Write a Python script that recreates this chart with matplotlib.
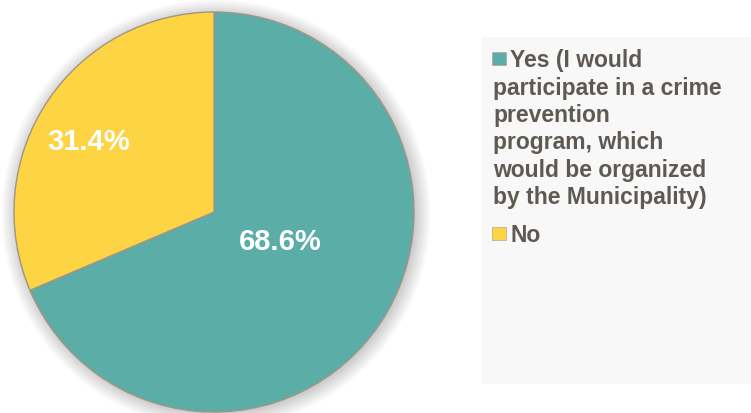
import matplotlib
matplotlib.use("Agg")
import matplotlib.pyplot as plt
from matplotlib.patches import Circle, Rectangle
import numpy as np

plt.rcParams["font.family"] = ["Liberation Sans", "DejaVu Sans"]

categories = ["Yes", "No"]
shares = [68.6, 31.4]
colors = ["#5aaea7", "#fdd443"]
# legend text, wrapped as in the original
legend_lines = [
    ["Yes (I would", "participate in a crime", "prevention", "program, which",
     "would be organized", "by the Municipality)"],
    ["No"],
]

W, H = 751, 414
fig = plt.figure(figsize=(W / 100, H / 100), dpi=100)
fig.patch.set_facecolor("white")


def px(x, y):
    return x / W, 1 - y / H


# pie axes: centre at (214, 213) px, radius 200 px
cx, cy, r = 214, 213, 200
ax = fig.add_axes([0, 0, 1, 1])
ax.axis("off")

# soft shadow
for k in range(10):
    ax.add_patch(Circle((0.01, -0.01), 1.0 + 0.008 * k, color="#000000",
                        alpha=0.018, lw=0, zorder=0))

wedges, _, autotexts = ax.pie(
    shares, colors=colors, startangle=90, counterclock=False,
    autopct="%.1f%%", pctdistance=0.7,
    wedgeprops=dict(edgecolor="#a39485", linewidth=1.0),
    textprops=dict(color="white", fontsize=21, fontweight="bold"),
)
ax.set_aspect("auto")
ax.set_xlim(-cx / r, (W - cx) / r)
ax.set_ylim(-(H - cy) / r, cy / r)

# label placement: distance from centre and angular nudge per wedge
for w, t, d, nudge in zip(wedges, autotexts, [0.36, 0.72], [10, 4]):
    mid = np.radians((w.theta1 + w.theta2) / 2 + nudge)
    t.set_position((d * np.cos(mid), d * np.sin(mid)))

# legend panel
x0, y0 = px(482, 385)
x1, y1 = px(751, 38)
fig.patches.append(Rectangle((x0, y0), x1 - x0, y1 - y0, transform=fig.transFigure,
                             facecolor="#f8f8f8", edgecolor="none", zorder=0))

text_color = "#5f5953"
line_h = 27.5
baseline = 67
for lines, col in zip(legend_lines, colors):
    sx, sy = px(492, baseline - 1)
    fig.patches.append(Rectangle((sx, sy), 14 / W, 13 / H, transform=fig.transFigure,
                                 facecolor=col, edgecolor="#b0a898", linewidth=0.5))
    for i, line in enumerate(lines):
        tx = 510 if i == 0 else 493
        fig.text(*px(tx, baseline + i * line_h), line, fontsize=16.5, fontweight="bold",
                 color=text_color, va="baseline", ha="left")
    baseline += (len(lines) - 1) * line_h + 37.5

fig.savefig("out.png", dpi=100)
